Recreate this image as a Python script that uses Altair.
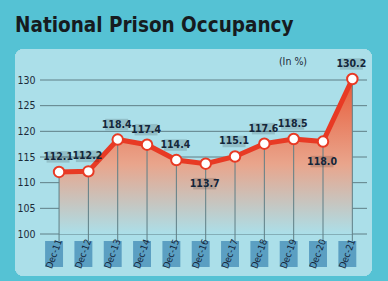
import altair as alt
import pandas as pd

years = ["Dec-11", "Dec-12", "Dec-13", "Dec-14", "Dec-15", "Dec-16",
         "Dec-17", "Dec-18", "Dec-19", "Dec-20", "Dec-21"]
values = [112.1, 112.2, 118.4, 117.4, 114.4, 113.7, 115.1, 117.6, 118.5, 118.0, 130.2]
label_below = [False, False, False, False, False, True, False, False, False, True, False]
y_ticks = [100, 105, 110, 115, 120, 125, 130]

df = pd.DataFrame({"year": years, "value": values, "below": label_below})
df["idx"] = range(len(years))
df["base"] = 100
df["label"] = df["value"].map(lambda v: f"{v:.1f}")

FONT = "DejaVu Sans Condensed"
NAVY = "#14263a"

x_scale = alt.Scale(domain=[-0.65, 10.5], nice=False, zero=False)
y_scale = alt.Scale(domain=[100, 130], nice=False, zero=False)

y_axis = alt.Axis(values=y_ticks, grid=False, zindex=1, labelOverlap=False,
                  domain=False, ticks=False, labelFont=FONT, labelFontSize=10.5,
                  labelColor="#1b2a38", labelPadding=5, title=None)
x_enc = alt.X("idx:Q", scale=x_scale, axis=None)
y_val = alt.Y("value:Q", scale=y_scale, axis=y_axis)

base = alt.Chart(df)

panel = base.mark_rect(color="#abdfe9", cornerRadius=9).encode(
    x=alt.value(-25), x2=alt.value(332), y=alt.value(-31), y2=alt.value(196)
)

title = alt.Chart(pd.DataFrame({"t": ["National Prison Occupancy"]})).mark_text(
    font=FONT, fontSize=20.5, fontWeight="bold", color="#161b20", align="left", baseline="alphabetic"
).encode(x=alt.value(-25), y=alt.value(-48), text="t:N")

unit = alt.Chart(pd.DataFrame({"t": ["(In %)"]})).mark_text(
    font=FONT, fontSize=10.5, color="#1b2a38", align="center", baseline="middle"
).encode(x=alt.value(253), y=alt.value(-18), text="t:N")

grid = alt.Chart(pd.DataFrame({"value": y_ticks})).mark_rule(color="#5f7f86", strokeWidth=1).encode(
    y=y_val
)

area = base.mark_area(
    line=False,
    color=alt.Gradient(
        gradient="linear",
        stops=[alt.GradientStop(color="#e85a38", offset=0),
               alt.GradientStop(color="#e9a58c", offset=0.55),
               alt.GradientStop(color="#abdfe9", offset=1)],
        x1=1, x2=1, y1=0, y2=1,
    ),
).encode(x=x_enc, y=y_val, y2="base:Q")

vrules = base.mark_rule(color="#5f7f86", strokeWidth=1).encode(
    x=x_enc, y=y_val, y2=alt.value(161)
)

line = base.mark_line(color="#e83a24", strokeWidth=5).encode(x=x_enc, y=y_val)

points = base.mark_point(filled=True, fill="white", stroke="#e83a24", strokeWidth=2,
                         size=110, opacity=1).encode(x=x_enc, y=y_val)

WIDE_BOX = "M-1,-0.5L1,-0.5L1,0.5L-1,0.5Z"
TALL_BOX = "M-0.69,-1L0.69,-1L0.69,1L-0.69,1Z"

def label_layer(below):
    sub = base.transform_filter("datum.below" if below else "!datum.below")
    dy = 20 if below else -15
    bg = sub.mark_point(shape=WIDE_BOX, filled=True, color="#000000", opacity=0.14,
                        size=529, yOffset=dy, xOffset=-1, strokeWidth=0).encode(x=x_enc, y=y_val)
    txt = sub.mark_text(font=FONT, fontSize=10.5, fontWeight="bold", color=NAVY,
                        dy=dy, dx=-1, baseline="middle").encode(
        x=x_enc, y=y_val, text="label:N"
    )
    return bg + txt

xbox = base.mark_point(shape=TALL_BOX, filled=True, color="#5b9fc2", opacity=1,
                       size=676, xOffset=-5, strokeWidth=0).encode(
    x=x_enc, y=alt.value(174)
)
xlab = base.mark_text(font=FONT, fontSize=9.5, color=NAVY, angle=290,
                      xOffset=-5, baseline="middle", align="center").encode(
    x=x_enc, y=alt.value(174), text="year:N"
)

chart = alt.layer(
    panel, title, unit, grid, area, vrules, line, points,
    label_layer(False), label_layer(True), xbox, xlab
).properties(
    width=327, height=154,
    background="#55c2d4",
    padding={"left": 40, "top": 80, "right": 21, "bottom": 47},
    autosize=alt.AutoSizeParams(type="none"),
).configure_view(stroke=None)

chart.save("out.html", embed_options={"renderer": "svg", "actions": False})
